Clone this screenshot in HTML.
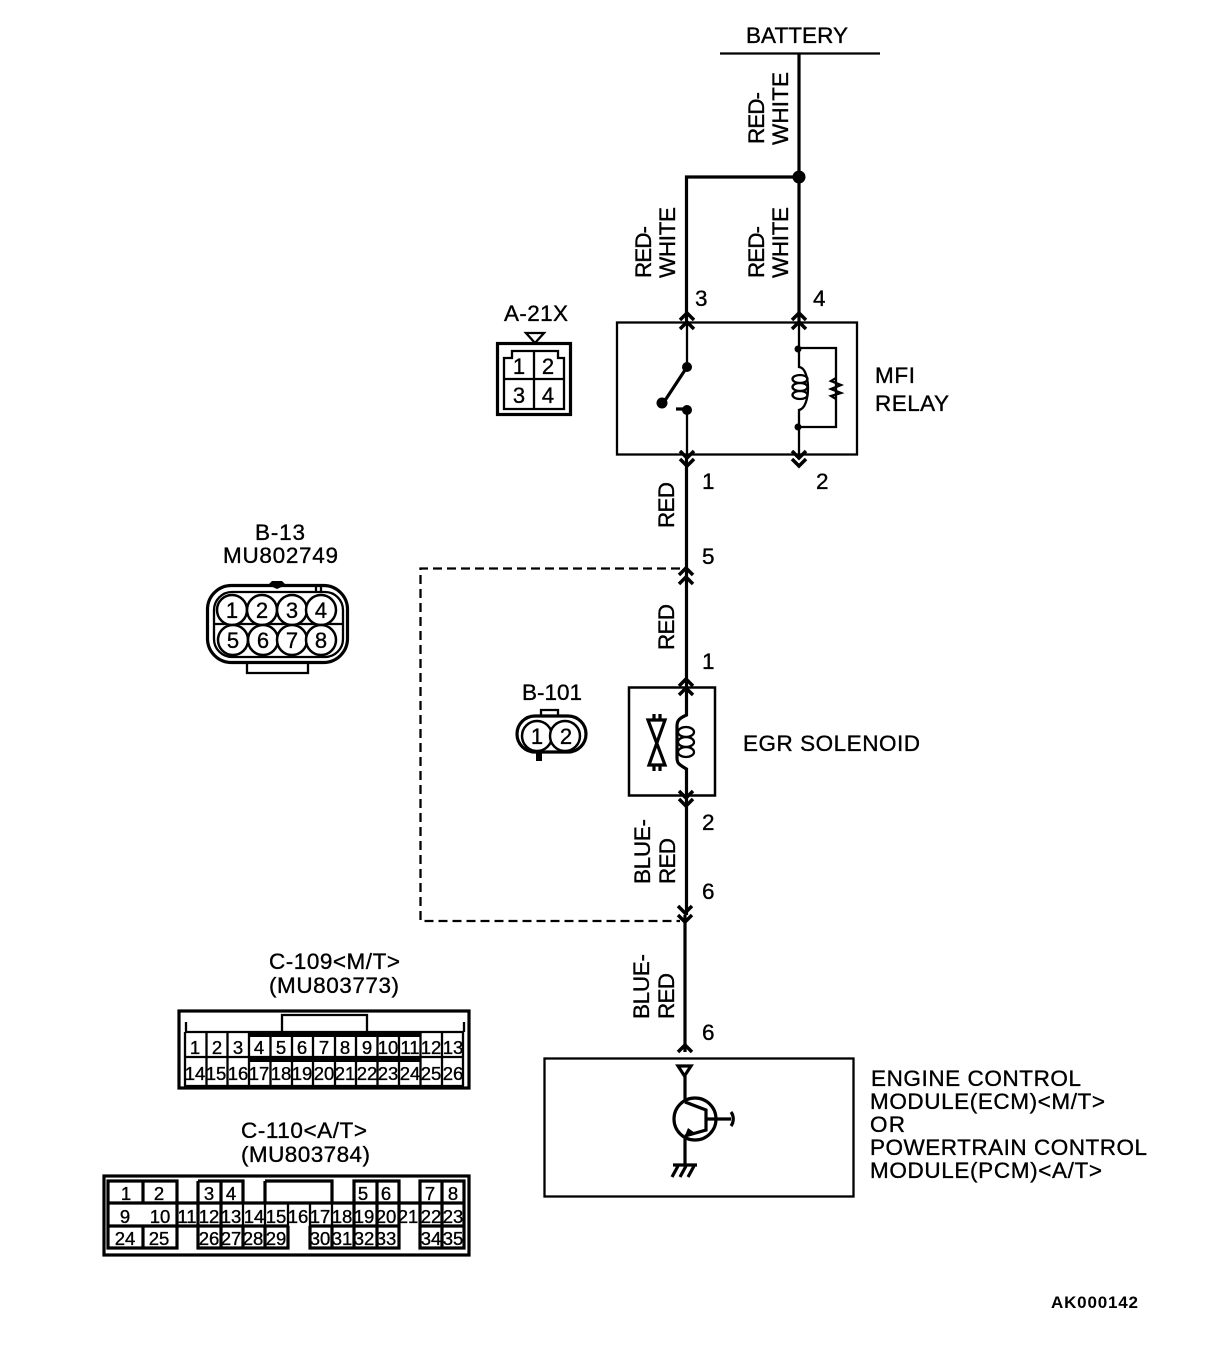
<!DOCTYPE html>
<html><head><meta charset="utf-8"><style>
html,body{margin:0;padding:0;background:#fff}
svg{display:block}
text{font-family:"Liberation Sans",sans-serif;fill:#000;stroke:#000;stroke-width:.35}
.t{font-size:22.5px}
.c{font-size:18.500px;text-anchor:middle}
.n{font-size:22px;text-anchor:middle}
.l{fill:none;stroke:#000;stroke-width:2.300}
.w{fill:none;stroke:#000;stroke-width:3.200}
.a{fill:none;stroke:#000;stroke-width:3.500}
</style></head><body>
<svg width="1216" height="1350" viewBox="0 0 1216 1350" xmlns="http://www.w3.org/2000/svg">
<!-- Battery -->
<text class="t" x="746" y="43" textLength="102">BATTERY</text>
<path class="l" d="M720 53.500H880"/>
<path class="w" d="M799 53V322M799 177H686.500V322"/>
<circle cx="799" cy="177" r="6.500"/>
<text class="t" transform="translate(764,144) rotate(-90)" textLength="52">RED-</text>
<text class="t" transform="translate(788,145) rotate(-90)" textLength="73">WHITE</text>
<text class="t" transform="translate(651,278) rotate(-90)" textLength="52">RED-</text>
<text class="t" transform="translate(675,278) rotate(-90)" textLength="71">WHITE</text>
<text class="t" transform="translate(764,278) rotate(-90)" textLength="52">RED-</text>
<text class="t" transform="translate(788,278) rotate(-90)" textLength="71">WHITE</text>
<text class="t" transform="translate(674,528) rotate(-90)" textLength="46">RED</text>
<text class="t" transform="translate(674,650) rotate(-90)" textLength="46">RED</text>
<text class="t" transform="translate(650,884) rotate(-90)" textLength="65">BLUE-</text>
<text class="t" transform="translate(675,884) rotate(-90)" textLength="46">RED</text>
<text class="t" transform="translate(649,1019) rotate(-90)" textLength="65">BLUE-</text>
<text class="t" transform="translate(674,1019) rotate(-90)" textLength="46">RED</text>
<!-- Relay -->
<rect x="617" y="322.500" width="240" height="132" class="l"/>
<path class="a" d="M680 320L687 313L694 320M680 329L687 322L694 329M792 320L799 313L806 320M792 329L799 322L806 329"/>
<path class="a" d="M680 451L687 458L694 451M680 459L687 466L694 459M792 451L799 458L806 451M792 459L799 466L806 459"/>
<path class="l" d="M687 322V367M687 410V458"/>
<path class="w" d="M686.500 458V688"/>
<circle cx="687" cy="367" r="5"/><circle cx="687" cy="410" r="5"/>
<circle cx="662" cy="403" r="5.500"/>
<path class="w" d="M664 402L687 367M676 409H687"/>
<path class="l" d="M799 322V348M799 348H836V427H799M799 348V367C811 368 811 408 799 410V458"/>
<circle cx="798" cy="349" r="3.500"/><circle cx="798" cy="427" r="3.500"/>
<ellipse cx="800" cy="379" rx="7.500" ry="4" class="l"/>
<ellipse cx="800" cy="387" rx="7.500" ry="4" class="l"/>
<ellipse cx="800" cy="395" rx="7.500" ry="4" class="l"/>
<path class="l" d="M836 378L831 381L841 385L831 389L841 393L831 396L836 399"/>
<text class="t" x="695" y="306">3</text>
<text class="t" x="813" y="306">4</text>
<text class="t" x="702" y="489">1</text>
<text class="t" x="816" y="489">2</text>
<text class="t" x="875" y="383" textLength="40">MFI</text>
<text class="t" x="875" y="411" textLength="74">RELAY</text>
<!-- A-21X -->
<text class="t" x="504" y="321" textLength="64">A-21X</text>
<path class="l" d="M526 333H544L535 343Z"/>
<rect x="497.500" y="343.500" width="73" height="71" class="w"/>
<path class="l" d="M512 351H558V358H564V409H504V358H512ZM534 351V409M504 379H564"/>
<text class="n" x="519" y="374">1</text><text class="n" x="548" y="374">2</text>
<text class="n" x="519" y="403">3</text><text class="n" x="548" y="403">4</text>
<!-- B-13 -->
<text class="t" x="255" y="540" textLength="50">B-13</text>
<text class="t" x="223" y="563" textLength="115">MU802749</text>
<rect x="207.500" y="585.500" width="140" height="77" rx="24" class="w"/>
<rect x="214" y="592" width="129" height="65" rx="18" class="l"/>
<path class="l" d="M247 662V673H308V662M214 624H343"/>
<path d="M268 585L272 581H282L286 585L277 589Z"/>
<path class="l" d="M316 586V592M321 586V592"/>
<g fill="#fff" stroke="#000" stroke-width="2.500">
<circle cx="232" cy="610" r="15"/><circle cx="262" cy="610" r="15"/><circle cx="292" cy="610" r="15"/><circle cx="321" cy="610" r="15"/>
<circle cx="233" cy="640" r="15"/><circle cx="263" cy="640" r="15"/><circle cx="292" cy="640" r="15"/><circle cx="321" cy="640" r="15"/>
</g>
<text class="n" x="232" y="618">1</text><text class="n" x="262" y="618">2</text><text class="n" x="292" y="618">3</text><text class="n" x="321" y="618">4</text>
<text class="n" x="233" y="648">5</text><text class="n" x="263" y="648">6</text><text class="n" x="292" y="648">7</text><text class="n" x="321" y="648">8</text>
<!-- Connector 5 and dashed -->
<path class="l" d="M680 568.500H420.500V921H680" stroke-dasharray="9 5"/>
<path class="a" d="M679 575L686 568L693 575M679 584L686 577L693 584"/>
<text class="t" x="702" y="564">5</text>
<text class="t" x="702" y="669">1</text>
<!-- B-101 -->
<text class="t" x="522" y="700" textLength="60">B-101</text>
<path class="l" d="M541 715V710H558V715"/>
<rect x="517" y="716" width="69" height="36" rx="18" class="w"/>
<circle cx="537" cy="736" r="15" fill="#fff" stroke="#000" stroke-width="2.500"/>
<circle cx="565" cy="736" r="15" fill="#fff" stroke="#000" stroke-width="2.500"/>
<text class="n" x="537" y="744">1</text><text class="n" x="566" y="744">2</text>
<path d="M536 752H542V761H536Z"/>
<!-- EGR -->
<rect x="629" y="687.500" width="86" height="108" class="l" style="stroke-width:2.500"/>
<path class="a" d="M679 686L686 679L693 686M679 695L686 688L693 695M679 791L686 798L693 791M679 799L686 806L693 799"/>
<path class="w" d="M686.500 688V715C680 718 677 720 677 726V758C677 764 680 765 686.500 769V915"/>
<ellipse cx="686" cy="732" rx="8" ry="5" class="l"/>
<ellipse cx="686" cy="742" rx="8" ry="5" class="l"/>
<ellipse cx="686" cy="752" rx="8" ry="5" class="l"/>
<path class="w" d="M648 720H665L649 765H665ZM654 714V720M660 714V720M654 765V771M660 765V771"/>
<text class="t" x="743" y="751" textLength="177">EGR SOLENOID</text>
<text class="t" x="702" y="830">2</text>
<text class="t" x="702" y="899">6</text>
<path class="a" d="M678 906L685 913L692 906M678 915L685 922L692 915"/>
<path class="w" d="M685 915V1052"/>
<!-- ECM -->
<text class="t" x="702" y="1040">6</text>
<path class="a" d="M678 1052L685 1045L692 1052"/>
<rect x="544.500" y="1058.500" width="309" height="138" class="l"/>
<path class="w" d="M678 1066H691L684.500 1076ZM685 1076V1102M685 1136V1165M673 1165H697"/>
<circle cx="695" cy="1119" r="21" class="w"/>
<path class="w" d="M685 1102L706 1110V1130L685 1136M706 1119H731M731 1112C734 1116 734 1122 731 1126M678 1166L672 1177M686 1166L680 1177M694 1166L688 1177"/>
<path d="M688 1128L695 1133L684 1138Z"/>
<text class="t" x="871" y="1086" textLength="210">ENGINE CONTROL</text>
<text class="t" x="870" y="1109" textLength="235">MODULE(ECM)&lt;M/T&gt;</text>
<text class="t" x="870" y="1132" textLength="35">OR</text>
<text class="t" x="870" y="1155" textLength="277">POWERTRAIN CONTROL</text>
<text class="t" x="870" y="1178" textLength="232">MODULE(PCM)&lt;A/T&gt;</text>
<!-- C-109 -->
<text class="t" x="269" y="969" textLength="131">C-109&lt;M/T&gt;</text>
<text class="t" x="269" y="993" textLength="130">(MU803773)</text>
<rect x="179" y="1011" width="290" height="77" class="w"/>
<path class="l" d="M184 1086H464M185 1032V1086M463 1032V1086M185 1032H463M185 1057H463M186 1022V1032M464 1022V1032"/>
<path class="l" d="M282 1032V1015H367V1032"/>
<path d="M248 1031H421V1037H248ZM248 1056H421V1062H248Z"/>
<path class="l" d="M206.500 1032V1086M227.500 1032V1086M249 1032V1086M270.500 1032V1086M292 1032V1086M313 1032V1086M335 1032V1086M356 1032V1086M377.500 1032V1086M399 1032V1086M420.500 1032V1086M442 1032V1086"/>
<g class="c">
<text class="c" x="195" y="1054">1</text><text class="c" x="217" y="1054">2</text><text class="c" x="238" y="1054">3</text><text class="c" x="259" y="1054">4</text><text class="c" x="281" y="1054">5</text><text class="c" x="302" y="1054">6</text><text class="c" x="324" y="1054">7</text><text class="c" x="345" y="1054">8</text><text class="c" x="367" y="1054">9</text><text class="c" x="388" y="1054">10</text><text class="c" x="410" y="1054">11</text><text class="c" x="431" y="1054">12</text><text class="c" x="453" y="1054">13</text>
<text class="c" x="195" y="1080">14</text><text class="c" x="216" y="1080">15</text><text class="c" x="238" y="1080">16</text><text class="c" x="259" y="1080">17</text><text class="c" x="281" y="1080">18</text><text class="c" x="302" y="1080">19</text><text class="c" x="324" y="1080">20</text><text class="c" x="345" y="1080">21</text><text class="c" x="367" y="1080">22</text><text class="c" x="388" y="1080">23</text><text class="c" x="410" y="1080">24</text><text class="c" x="431" y="1080">25</text><text class="c" x="453" y="1080">26</text>
</g>
<!-- C-110 -->
<text class="t" x="241" y="1138" textLength="126">C-110&lt;A/T&gt;</text>
<text class="t" x="241" y="1162" textLength="129">(MU803784)</text>
<rect x="104" y="1176" width="365" height="79" class="w"/>
<path class="w" d="M108 1181H177V1248H108ZM143 1181V1203M143 1226V1248M198 1181H243V1203M198 1181V1248H288V1226M221 1181V1248M243 1226V1248M265 1226V1248M265 1181H332V1203M265 1181V1203M310 1226V1248H399V1181H354V1248M332 1226V1248M377 1181V1248M420 1181H464V1248H420ZM442 1181V1248M108 1203H464M108 1226H288M310 1226H399M420 1226H464"/>
<path class="l" d="M177 1203V1226M198 1203V1226M221 1203V1226M243 1203V1226M265 1203V1226M288 1203V1226M310 1203V1226M332 1203V1226M354 1203V1226M399 1203V1226M420 1203V1226"/>
<text class="c" x="126" y="1200">1</text><text class="c" x="159" y="1200">2</text><text class="c" x="209" y="1200">3</text><text class="c" x="231" y="1200">4</text><text class="c" x="363" y="1200">5</text><text class="c" x="386" y="1200">6</text><text class="c" x="430" y="1200">7</text><text class="c" x="453" y="1200">8</text>
<text class="c" x="125" y="1223">9</text><text class="c" x="160" y="1223">10</text><text class="c" x="187" y="1223">11</text><text class="c" x="209" y="1223">12</text><text class="c" x="231" y="1223">13</text><text class="c" x="254" y="1223">14</text><text class="c" x="276" y="1223">15</text><text class="c" x="298" y="1223">16</text><text class="c" x="320" y="1223">17</text><text class="c" x="342" y="1223">18</text><text class="c" x="364" y="1223">19</text><text class="c" x="386" y="1223">20</text><text class="c" x="408" y="1223">21</text><text class="c" x="431" y="1223">22</text><text class="c" x="453" y="1223">23</text>
<text class="c" x="125" y="1245">24</text><text class="c" x="159" y="1245">25</text><text class="c" x="209" y="1245">26</text><text class="c" x="231" y="1245">27</text><text class="c" x="253" y="1245">28</text><text class="c" x="276" y="1245">29</text><text class="c" x="320" y="1245">30</text><text class="c" x="342" y="1245">31</text><text class="c" x="364" y="1245">32</text><text class="c" x="386" y="1245">33</text><text class="c" x="431" y="1245">34</text><text class="c" x="453" y="1245">35</text>
<text x="1051" y="1308" textLength="87" style="font-size:17px;font-weight:bold;stroke-width:0">AK000142</text>
</svg>
</body></html>
